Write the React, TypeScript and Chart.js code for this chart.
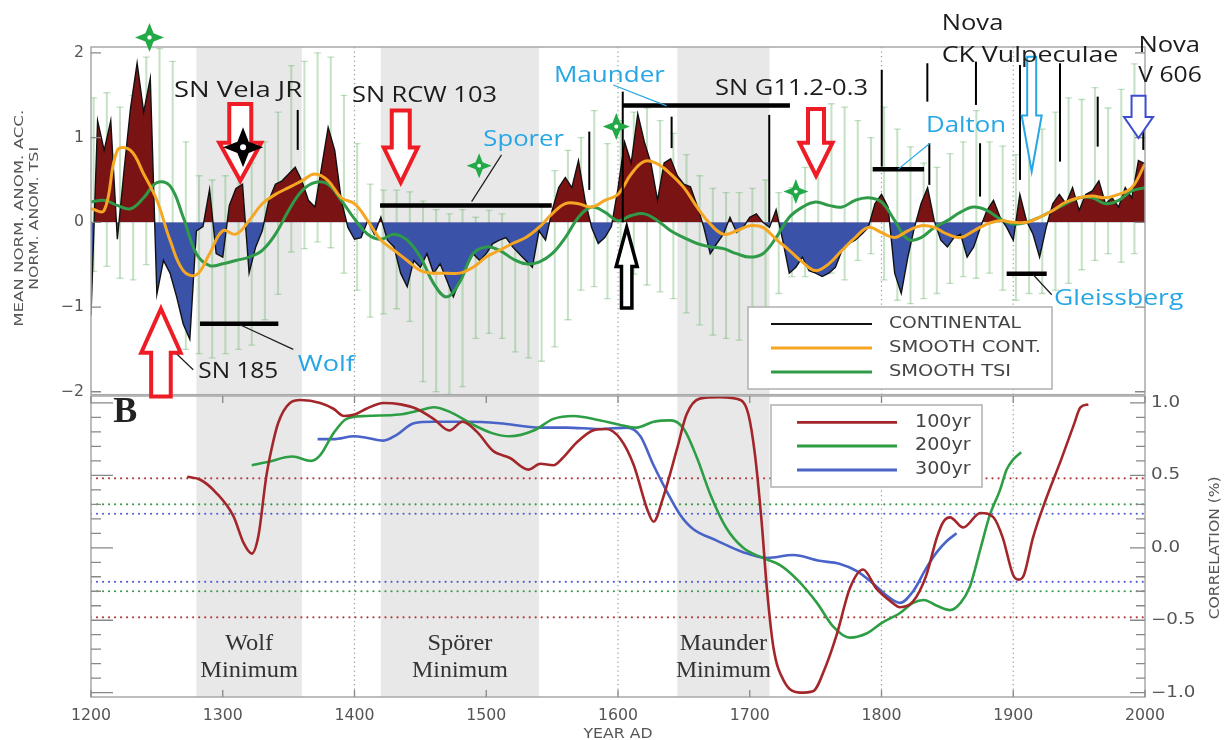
import React, { useEffect, useRef } from "react";
import { Chart, registerables } from "chart.js";
Chart.register(...registerables);

// ================= DATA =================
// Upper panel: continental reconstruction (5-year steps)
const CONT_YEARS = Array.from({ length: 161 }, (_, i) => 1200 + 5 * i);
const CONTINENTAL = [
  -1.1, 1.2, 0.85, 1.2, -0.2, 0.6, 1.35, 1.88, 1.3, 1.7,
  -0.85, -0.45, -0.6, -0.88, -1.2, -1.38, -0.1, -0.05, 0.39, -0.37,
  -0.41, 0.2, 0.4, 0.45, -0.6, -0.29, -0.1, 0.26, 0.45, 0.49,
  0.57, 0.65, 0.49, 0.26, 0.18, 0.65, 1.12, 0.85, 0.26, -0.06,
  -0.2, -0.18, 0.02, -0.14, 0.06, -0.21, -0.29, -0.6, -0.76, -0.45,
  -0.53, -0.37, -0.6, -0.49, -0.68, -0.88, -0.68, -0.53, -0.37, -0.45,
  -0.37, -0.25, -0.21, -0.18, -0.29, -0.37, -0.45, -0.53, -0.1, -0.21,
  0.14, 0.41, 0.53, 0.41, 0.73, 0.26, -0.06, -0.25, -0.18, -0.05,
  0.4, 0.95, 0.7, 1.28, 0.95, 0.7, 0.26, 0.7, 0.75, 0.55,
  0.45, 0.42, 0.2, -0.05, -0.37, -0.25, -0.14, 0.06, -0.12, -0.06,
  0.06, 0.1, 0.0, -0.06, 0.15, -0.21, -0.6, -0.53, -0.41, -0.57,
  -0.6, -0.64, -0.6, -0.53, -0.33, -0.25, -0.21, -0.14, -0.06, 0.22,
  0.33, 0.18, -0.6, -0.84, -0.41, -0.06, 0.22, 0.41, 0.02, -0.21,
  -0.29, -0.18, -0.14, -0.41, -0.29, -0.06, 0.14, 0.26, 0.06, -0.06,
  -0.21, 0.33, 0.02, -0.14, -0.41, -0.06, 0.22, 0.33, 0.22, 0.41,
  0.14, 0.33, 0.37, 0.49, 0.22, 0.29, 0.18, 0.41, 0.29, 0.73,
  0.69,
];

// Smooth curves (10-year steps)
const SMOOTH_YEARS = Array.from({ length: 81 }, (_, i) => 1200 + 10 * i);
const SMOOTH_CONT = [
  0.16, 0.14, 0.85, 0.85, 0.57, 0.26, -0.21, -0.57, -0.62, -0.37,
  -0.1, -0.14, 0.02, 0.22, 0.33, 0.41, 0.49, 0.57, 0.49, 0.29,
  0.22, 0.02, -0.21, -0.33, -0.45, -0.57, -0.6, -0.6, -0.6, -0.53,
  -0.41, -0.33, -0.25, -0.18, -0.06, 0.1, 0.22, 0.22, 0.18, 0.26,
  0.33, 0.57, 0.72, 0.69, 0.57, 0.41, 0.18, -0.02, -0.14, -0.1,
  -0.04, -0.06, -0.2, -0.33, -0.47, -0.57, -0.49, -0.33, -0.18, -0.06,
  -0.12, -0.18, -0.1, -0.04, -0.06, -0.14, -0.18, -0.1, -0.02, 0.02,
  0.0, 0.0, 0.06, 0.14, 0.24, 0.29, 0.31, 0.29, 0.33, 0.41,
  0.69,
];
const SMOOTH_TSI = [
  0.24, 0.26, 0.2, 0.16, 0.29, 0.47, 0.43, 0.06, -0.37, -0.51,
  -0.49, -0.45, -0.41, -0.33, -0.14, 0.14, 0.37, 0.47, 0.45, 0.26,
  0.04, -0.14, -0.2, -0.14, -0.21, -0.41, -0.72, -0.88, -0.7, -0.37,
  -0.29, -0.33, -0.43, -0.49, -0.47, -0.37, -0.18, 0.06, 0.18, 0.12,
  0.02, 0.08, 0.1, 0.02, -0.1, -0.18, -0.25, -0.29, -0.31, -0.37,
  -0.41, -0.37, -0.18, 0.06, 0.18, 0.24, 0.2, 0.18, 0.26, 0.29,
  0.24, 0.02, -0.2, -0.18, -0.06, 0.02, 0.12, 0.18, 0.14, 0.04,
  -0.02, 0.0, 0.06, 0.14, 0.22, 0.29, 0.29, 0.22, 0.26, 0.37,
  0.41,
];

// Error bars (every 10 years)
const ERR_YEARS = Array.from({ length: 80 }, (_, i) => 1202 + 10 * i);
const ERR_HIGH = [
  1.47, 1.53, 1.36, 1.5, 1.95, 2.05, 1.9, 0.95, 0.55, 0.5,
  0.55, 0.6, 0.7, 0.95, 1.3, 1.85, 1.9, 2.0, 1.95, 1.5,
  0.93, 0.45, 0.38, 0.38, 0.36, 0.25, 0.15, 0.1, 0.15, 0.06,
  0.14, 0.1, -0.21, -0.06, 0.18, 0.61, 0.85, 1.0, 1.32, 0.93,
  1.2, 1.3, 1.35, 1.2, 1.05, 0.8, 0.55, 0.4, 0.35, 0.35,
  0.4, 0.5, 0.35, 0.41, 0.65, 1.12, 1.4, 1.36, 1.2, 1.0,
  1.36, 1.1, 0.89, 0.7, 0.65, 0.81, 0.95, 1.32, 0.95, 0.9,
  0.8, 0.9, 1.1, 1.3, 1.47, 1.45, 1.59, 1.35, 1.57, 1.87,
];
const ERR_LOW = [
  -0.58, -0.52, -0.66, -0.68, -0.5, -0.5, -0.65, -1.5, -1.55, -1.6,
  -1.55, -1.5, -1.45, -1.15, -0.85, -0.35, -0.31, -0.23, -0.3, -0.6,
  -0.8, -1.12, -1.08, -1.02, -1.17, -1.88, -2.0, -2.03, -1.94, -1.37,
  -1.31, -1.37, -1.53, -1.6, -1.64, -1.47, -1.15, -0.8, -0.76, -0.9,
  -0.5, -0.61, -0.74, -0.82, -0.9, -1.07, -1.21, -1.33, -1.37, -1.39,
  -1.27, -1.04, -0.84, -0.64, -0.64, -0.57, -0.6, -0.68, -0.45, -0.37,
  -0.68, -0.92, -0.96, -0.9, -0.84, -0.72, -0.64, -0.66, -0.6, -0.8,
  -0.92, -0.84, -0.84, -0.8, -0.72, -0.56, -0.45, -0.37, -0.47, -0.37,
];

// Lower panel: running correlations
const R100_YEARS = [1273, 1283, 1295, 1308, 1316, 1322, 1327, 1333, 1337, 1342, 1351, 1359, 1374, 1384, 1392, 1400, 1409, 1422, 1435, 1447, 1460, 1472, 1482, 1493, 1505, 1518, 1532, 1541, 1551, 1558, 1569, 1581, 1591, 1602, 1612, 1622, 1627, 1634, 1645, 1652, 1662, 1677, 1693, 1699, 1704, 1709, 1713, 1718, 1726, 1738, 1748, 1758, 1766, 1776, 1786, 1796, 1807, 1814, 1824, 1834, 1842, 1847, 1852, 1862, 1875, 1885, 1892, 1900, 1904, 1908, 1915, 1925, 1936, 1946, 1951, 1957];
const R100 = [0.49, 0.47, 0.38, 0.22, 0.03, -0.04, 0.08, 0.49, 0.68, 0.86, 1.0, 1.02, 1.0, 0.96, 0.91, 0.92, 0.96, 1.0, 0.99, 0.96, 0.89, 0.81, 0.87, 0.8, 0.67, 0.62, 0.54, 0.58, 0.57, 0.62, 0.73, 0.81, 0.82, 0.75, 0.57, 0.27, 0.18, 0.34, 0.69, 0.92, 1.03, 1.04, 1.02, 0.92, 0.64, 0.18, -0.28, -0.69, -0.92, -1.0, -0.99, -0.81, -0.6, -0.28, -0.15, -0.28, -0.37, -0.41, -0.37, -0.19, 0.07, 0.18, 0.21, 0.14, 0.24, 0.21, 0.07, -0.19, -0.22, -0.19, 0.07, 0.34, 0.6, 0.85, 0.97, 0.99];
const G200_YEARS = [1322, 1333, 1353, 1367, 1374, 1384, 1394, 1409, 1434, 1450, 1460, 1472, 1490, 1505, 1518, 1536, 1551, 1566, 1586, 1601, 1614, 1627, 1640, 1650, 1660, 1670, 1682, 1695, 1710, 1723, 1736, 1751, 1763, 1776, 1789, 1800, 1814, 1824, 1832, 1842, 1852, 1860, 1867, 1875, 1882, 1890, 1895, 1900, 1906];
const G200 = [0.57, 0.59, 0.63, 0.6, 0.64, 0.79, 0.89, 0.91, 0.92, 0.95, 0.97, 0.94, 0.85, 0.79, 0.77, 0.81, 0.89, 0.91, 0.88, 0.85, 0.83, 0.87, 0.88, 0.82, 0.62, 0.37, 0.14, 0.0, -0.07, -0.12, -0.22, -0.38, -0.54, -0.62, -0.59, -0.52, -0.45, -0.38, -0.36, -0.4, -0.43, -0.38, -0.27, -0.01, 0.22, 0.4, 0.54, 0.61, 0.66];
const B300_YEARS = [1372, 1384, 1400, 1409, 1422, 1432, 1445, 1460, 1485, 1510, 1541, 1561, 1586, 1607, 1617, 1627, 1637, 1647, 1657, 1675, 1695, 1713, 1733, 1753, 1768, 1781, 1794, 1804, 1814, 1824, 1834, 1842, 1850, 1857];
const B300 = [0.75, 0.75, 0.77, 0.76, 0.74, 0.78, 0.86, 0.87, 0.87, 0.86, 0.83, 0.83, 0.82, 0.83, 0.77, 0.57, 0.39, 0.23, 0.13, 0.05, -0.03, -0.07, -0.05, -0.09, -0.11, -0.16, -0.25, -0.33, -0.38, -0.3, -0.14, -0.03, 0.05, 0.1];
// significance levels
const SIG_YEARS = [1200, 2000];
const SIG_100 = 0.48;
const SIG_200 = 0.3;
const SIG_300 = 0.235;

// Minima bands and ticks
const MINIMA = [[1280, 1360], [1420, 1540], [1645, 1715]];
const X_TICKS = [1200, 1300, 1400, 1500, 1600, 1700, 1800, 1900, 2000];
const TOP_Y_TICKS = [-2, -1, 0, 1, 2];
const BOT_Y_LABELS = [-1, -0.5, 0, 0.5, 1];
const MIN_NAMES = [["Wolf", "Minimum"], ["Spörer", "Minimum"], ["Maunder", "Minimum"]];

// ================= ANNOTATIONS (data coordinates) =================
const DARK = "#1c1c1c";
const LBLUE = "#27a6e6";
const RED = "#ee1c25";
const GREEN = "#22aa48";
const TEXTS_TOP: [string, number, number, number, string][] = [
  ["SN Vela JR", 1311.6, 1.481, 128, DARK],
  ["SN RCW 103", 1453.1, 1.422, 145, DARK],
  ["SN G11.2-0.3", 1731.7, 1.504, 153, DARK],
  ["Nova", 1869.1, 2.271, 61.6, DARK],
  ["CK Vulpeculae", 1912.7, 1.897, 176.7, DARK],
  ["Nova", 2018.4, 2.015, 61.7, DARK],
  ["V 606", 2019, 1.661, 63.5, DARK],
  ["SN 185", 1311.8, -1.838, 80, DARK],
  ["Wolf", 1378.6, -1.76, 57.3, LBLUE],
  ["Sporer", 1528.4, 0.906, 80.7, LBLUE],
  ["Maunder", 1593.5, 1.661, 111, LBLUE],
  ["Dalton", 1864.1, 1.071, 80, LBLUE],
  ["Gleissberg", 1980, -0.973, 129.3, LBLUE],
];
const MIN_BARS = [[1282.7, 1342.2, -1.198], [1419.4, 1549.7, 0.198], [1603.6, 1730.5, 1.378], [1793.3, 1832.3, 0.628], [1895, 1925.4, -0.608]];
const CONNECTORS: [number, number, number, number, string][] = [
  [1313.1, -1.21, 1353.5, -1.5, DARK],
  [1252.4, -1.366, 1277.6, -1.74, DARK],
  [1488.9, 0.245, 1511.6, 0.796, DARK],
  [1596.4, 1.622, 1636.9, 1.375, LBLUE],
  [1812.7, 0.628, 1836.8, 0.934, LBLUE],
  [1915.2, -0.619, 1929.2, -0.855, DARK],
];
const VLINES = [
  [1356.9, 1.327, 0.855], [1578.2, 1.071, 0.383], [1603.6, 1.543, 0.0], [1640.7, 1.248, 0.876], [1714.8, 1.268, 0.0],
  [1800.2, 1.8, 0.658], [1834.8, 1.878, 1.425], [1836.3, 0.934, 0.442], [1871.7, 1.897, 1.386], [1874.8, 0.934, 0.304],
  [1905.1, 1.858, 0.501], [1935.5, 1.878, 0.717], [1964.1, 1.484, 0.894], [1998.7, 1.366, 0.855],
];
// [year, tip value, tail value, head half-width px, shaft half-width px, head length px, color, line width]
const ARROWS: [number, number, number, number, number, number, string, number][] = [
  [1253.1, -1.02, -2.055, 19.7, 9.8, 44, RED, 4],
  [1313.3, 0.49, 1.398, 21, 11, 38, RED, 4],
  [1435.1, 0.47, 1.319, 17, 9, 35, RED, 4],
  [1750.3, 0.55, 1.339, 16.5, 8, 33, RED, 4],
  [1606.6, -0.06, -1.012, 10.5, 5.2, 39, "#000", 3.5],
  [1914.0, 0.6, 1.956, 10, 4.5, 56, LBLUE, 2],
  [1995.1, 0.995, 1.493, 14.5, 7, 21, "#3b4ccf", 2],
];
const STARS: [number, number, number, string][] = [
  [1244.4, 2.183, 14.5, GREEN],
  [1494.6, 0.669, 12.5, GREEN],
  [1598.7, 1.13, 13.5, GREEN],
  [1735.0, 0.363, 12.5, GREEN],
  [1315.4, 0.885, 20, "#000"],
];

// ================= helpers =================
const BAND = "#e8e8e8";
const AXIS_GRAY = "#555";
const FRAME = "#a8a8a8";
const ERR_COLOR = "rgba(120,185,120,0.42)";

function drawText(ctx: CanvasRenderingContext2D, s: string, x: number, y: number, o: any) {
  ctx.save();
  ctx.font = o.font;
  ctx.fillStyle = o.color || "#000";
  ctx.textAlign = o.align || "center";
  ctx.textBaseline = o.baseline || "alphabetic";
  ctx.translate(x, y);
  if (o.rot) ctx.rotate(o.rot);
  let sx = o.sx || 1;
  if (o.width) sx = o.width / ctx.measureText(s).width;
  ctx.scale(sx, 1);
  ctx.fillText(s, 0, 0);
  ctx.restore();
}

function drawGridAndBands(chart: any) {
  const { ctx, chartArea: a, scales } = chart;
  const x = scales.x;
  ctx.save();
  ctx.strokeStyle = "#9a9a9a";
  ctx.lineWidth = 1.2;
  ctx.setLineDash([1.2, 3.3]);
  X_TICKS.forEach((v) => {
    if (v <= 1200 || v >= 2000) return;
    const px = x.getPixelForValue(v);
    ctx.beginPath();
    ctx.moveTo(px, a.top);
    ctx.lineTo(px, a.bottom);
    ctx.stroke();
  });
  ctx.setLineDash([]);
  ctx.fillStyle = BAND;
  MINIMA.forEach(([s, e]) => {
    const x1 = x.getPixelForValue(s);
    const x2 = x.getPixelForValue(e);
    ctx.fillRect(x1, a.top, x2 - x1, a.bottom - a.top);
  });
  ctx.restore();
}

function drawArrow(ctx: CanvasRenderingContext2D, x: number, tipY: number, tailY: number, hw: number, sw: number, hl: number, color: string, lw: number) {
  const d = tailY > tipY ? 1 : -1;
  const hb = tipY + d * hl;
  ctx.save();
  ctx.beginPath();
  ctx.moveTo(x, tipY);
  ctx.lineTo(x + hw, hb);
  ctx.lineTo(x + sw, hb);
  ctx.lineTo(x + sw, tailY);
  ctx.lineTo(x - sw, tailY);
  ctx.lineTo(x - sw, hb);
  ctx.lineTo(x - hw, hb);
  ctx.closePath();
  ctx.fillStyle = "#fff";
  ctx.fill();
  ctx.strokeStyle = color;
  ctx.lineWidth = lw;
  ctx.lineJoin = "miter";
  ctx.stroke();
  ctx.restore();
}

function drawStar(ctx: CanvasRenderingContext2D, x: number, y: number, r: number, color: string) {
  ctx.save();
  ctx.beginPath();
  for (let i = 0; i < 8; i++) {
    const ang = -Math.PI / 2 + (i * Math.PI) / 4;
    const rad = i % 2 === 0 ? r : r * 0.4;
    const px = x + rad * Math.cos(ang);
    const py = y + rad * Math.sin(ang);
    if (i === 0) ctx.moveTo(px, py);
    else ctx.lineTo(px, py);
  }
  ctx.closePath();
  ctx.fillStyle = color;
  ctx.fill();
  ctx.beginPath();
  ctx.arc(x, y, r * 0.34, 0, Math.PI * 2);
  ctx.fill();
  ctx.beginPath();
  ctx.arc(x, y, r * 0.15, 0, Math.PI * 2);
  ctx.fillStyle = "#fff";
  ctx.fill();
  ctx.restore();
}

const fmtMinus = (v: number, d: number) => (v < 0 ? "\u2212" : "") + Math.abs(v).toFixed(d);

// ================= top plugin =================
const topPlugin = {
  id: "topDecor",
  beforeDatasetsDraw(chart: any) {
    drawGridAndBands(chart);
  },
  afterDraw(chart: any) {
    const { ctx, chartArea: a, scales } = chart;
    const X = (v: number) => scales.x.getPixelForValue(v);
    const Y = (v: number) => scales.y.getPixelForValue(v);
    ctx.save();
    // frame
    ctx.strokeStyle = FRAME;
    ctx.lineWidth = 1.5;
    ctx.strokeRect(a.left, a.top, a.right - a.left, a.bottom - a.top);
    // ticks
    ctx.strokeStyle = "#888";
    ctx.lineWidth = 1.3;
    TOP_Y_TICKS.forEach((v) => {
      const py = Y(v);
      ctx.beginPath();
      ctx.moveTo(a.left, py);
      ctx.lineTo(a.left + 10, py);
      ctx.moveTo(a.right, py);
      ctx.lineTo(a.right - 10, py);
      ctx.stroke();
      drawText(ctx, fmtMinus(v, 0), a.left - 7, py, { font: "15px 'DejaVu Sans'", color: AXIS_GRAY, align: "right", baseline: "middle", sx: 1.05 });
    });
    // y title
    const yc = Y(0) - 4;
    drawText(ctx, "MEAN NORM. ANOM. ACC.", 20, yc, { font: "13px 'DejaVu Sans'", color: AXIS_GRAY, baseline: "middle", rot: -Math.PI / 2, width: 217 });
    drawText(ctx, "NORM. ANOM. TSI", 35, yc, { font: "13px 'DejaVu Sans'", color: AXIS_GRAY, baseline: "middle", rot: -Math.PI / 2, width: 143 });

    // vertical black marks
    ctx.strokeStyle = "#000";
    ctx.lineWidth = 2;
    VLINES.forEach(([yr, v1, v2]) => {
      ctx.beginPath();
      ctx.moveTo(X(yr), Y(v1));
      ctx.lineTo(X(yr), Y(v2));
      ctx.stroke();
    });
    // minima bars
    ctx.lineWidth = 4.5;
    MIN_BARS.forEach(([y1, y2, v]) => {
      ctx.beginPath();
      ctx.moveTo(X(y1), Y(v));
      ctx.lineTo(X(y2), Y(v));
      ctx.stroke();
    });
    // connectors
    ctx.lineWidth = 1.2;
    CONNECTORS.forEach(([x1, v1, x2, v2, c]) => {
      ctx.strokeStyle = c;
      ctx.beginPath();
      ctx.moveTo(X(x1), Y(v1));
      ctx.lineTo(X(x2), Y(v2));
      ctx.stroke();
    });
    // arrows
    ARROWS.forEach(([yr, tip, tail, hw, sw, hl, c, lw]) => drawArrow(ctx, X(yr), Y(tip), Y(tail), hw, sw, hl, c, lw));
    // stars
    STARS.forEach(([yr, v, r, c]) => drawStar(ctx, X(yr), Y(v), r, c));
    // texts
    TEXTS_TOP.forEach(([t, yr, v, w, c]) => drawText(ctx, t, X(yr), Y(v), { font: "22px 'Open Sans'", color: c, width: w }));

    // legend
    ctx.fillStyle = "#fff";
    ctx.fillRect(748, 307, 304, 82);
    ctx.strokeStyle = "#b0b0b0";
    ctx.lineWidth = 1.5;
    ctx.strokeRect(748, 307, 304, 82);
    const items: [string, string, number, number, number][] = [
      ["CONTINENTAL", "#111", 2.2, 324, 132],
      ["SMOOTH CONT.", "#f5a623", 3, 348, 152],
      ["SMOOTH TSI", "#2f9a48", 3, 372, 122],
    ];
    items.forEach(([label, col, lw, yy, w]) => {
      ctx.strokeStyle = col;
      ctx.lineWidth = lw;
      ctx.beginPath();
      ctx.moveTo(771, yy);
      ctx.lineTo(872, yy);
      ctx.stroke();
      drawText(ctx, label, 889, yy, { font: "16px 'DejaVu Sans'", color: "#444", align: "left", baseline: "middle", width: w });
    });
    ctx.restore();
  },
};

// ================= bottom plugin =================
const botPlugin = {
  id: "botDecor",
  beforeDatasetsDraw(chart: any) {
    drawGridAndBands(chart);
  },
  afterDraw(chart: any) {
    const { ctx, chartArea: a, scales } = chart;
    const X = (v: number) => scales.x.getPixelForValue(v);
    const Y = (v: number) => scales.y.getPixelForValue(v);
    ctx.save();
    ctx.strokeStyle = FRAME;
    ctx.lineWidth = 1.5;
    ctx.strokeRect(a.left, a.top, a.right - a.left, a.bottom - a.top);
    // y ticks every 0.1
    ctx.strokeStyle = "#888";
    ctx.lineWidth = 1.3;
    for (let i = -10; i <= 10; i++) {
      const v = i / 10;
      const py = Y(v);
      const major = i % 5 === 0;
      ctx.beginPath();
      ctx.moveTo(a.left, py);
      ctx.lineTo(a.left + (major ? 22 : 10), py);
      ctx.moveTo(a.right, py);
      ctx.lineTo(a.right - (major ? 15 : 9), py);
      ctx.stroke();
    }
    // x ticks
    X_TICKS.forEach((v) => {
      const px = X(v);
      ctx.beginPath();
      ctx.moveTo(px, a.bottom);
      ctx.lineTo(px, a.bottom - 7);
      ctx.moveTo(px, a.top);
      ctx.lineTo(px, a.top + 7);
      ctx.stroke();
      drawText(ctx, String(v), px, a.bottom + 23, { font: "15px 'DejaVu Sans'", color: AXIS_GRAY, sx: 1.05 });
    });
    BOT_Y_LABELS.forEach((v) => {
      drawText(ctx, fmtMinus(v, 1), a.right + 6, Y(v), { font: "15px 'DejaVu Sans'", color: AXIS_GRAY, align: "left", baseline: "middle", sx: 1.22 });
    });
    drawText(ctx, "CORRELATION (%)", a.right + 70, Y(0), { font: "14px 'DejaVu Sans'", color: AXIS_GRAY, baseline: "middle", rot: -Math.PI / 2, width: 143 });
    drawText(ctx, "YEAR AD", X(1600), a.bottom + 41, { font: "14px 'DejaVu Sans'", color: AXIS_GRAY, width: 69 });
    // B
    drawText(ctx, "B", X(1216.9), Y(0.871), { font: "bold 36px 'Liberation Serif'", color: "#222", align: "left" });
    // minima labels
    const widths = [[48.3, 97.7], [65, 95.7], [87.3, 95]];
    MINIMA.forEach(([s, e], i) => {
      const cx = X((s + e) / 2);
      drawText(ctx, MIN_NAMES[i][0], cx, Y(-0.708), { font: "24px 'Liberation Serif'", color: "#333", width: widths[i][0] });
      drawText(ctx, MIN_NAMES[i][1], cx, Y(-0.892), { font: "24px 'Liberation Serif'", color: "#333", width: widths[i][1] });
    });
    // legend
    ctx.fillStyle = "#fff";
    ctx.fillRect(771, 10, 211, 82);
    ctx.strokeStyle = "#b0b0b0";
    ctx.lineWidth = 1.5;
    ctx.strokeRect(771, 10, 211, 82);
    const items: [string, string, number][] = [
      ["100yr", "#a3262a", 27.3],
      ["200yr", "#2e9e45", 51],
      ["300yr", "#4a63c8", 75],
    ];
    items.forEach(([label, col, yy]) => {
      ctx.strokeStyle = col;
      ctx.lineWidth = 2.8;
      ctx.beginPath();
      ctx.moveTo(797, yy);
      ctx.lineTo(897, yy);
      ctx.stroke();
      drawText(ctx, label, 915, yy, { font: "17px 'DejaVu Sans'", color: "#444", align: "left", baseline: "middle", width: 55.7 });
    });
    ctx.restore();
  },
};

// ================= configs =================
function topConfig(): any {
  const pts = (xs: number[], ys: number[]) => xs.map((x, i) => ({ x, y: ys[i] }));
  return {
    type: "line",
    data: {
      datasets: [
        { label: "SMOOTH CONT.", data: pts(SMOOTH_YEARS, SMOOTH_CONT), borderColor: "#f5a623", borderWidth: 3, pointRadius: 0, tension: 0.4, fill: false, order: 1 },
        { label: "SMOOTH TSI", data: pts(SMOOTH_YEARS, SMOOTH_TSI), borderColor: "#2f9a48", borderWidth: 3, pointRadius: 0, tension: 0.4, fill: false, order: 2 },
        {
          label: "CONTINENTAL",
          data: pts(CONT_YEARS, CONTINENTAL),
          borderColor: "#111",
          borderWidth: 1.4,
          pointRadius: 0,
          tension: 0,
          fill: { target: "origin", above: "#7a1414", below: "#3a52a8" },
          order: 3,
        },
        {
          label: "caps",
          data: [...pts(ERR_YEARS, ERR_HIGH), ...pts(ERR_YEARS, ERR_LOW)],
          showLine: false,
          pointStyle: "line",
          pointRadius: 3.5,
          pointBorderWidth: 1.3,
          pointBorderColor: ERR_COLOR,
          borderColor: ERR_COLOR,
          fill: false,
          order: 4,
        },
        {
          type: "bar",
          label: "err",
          data: ERR_YEARS.map((x, i) => ({ x, y: [ERR_LOW[i], ERR_HIGH[i]] })),
          backgroundColor: ERR_COLOR,
          borderWidth: 0,
          barThickness: 1.4,
          grouped: false,
          order: 5,
        },
      ],
    },
    options: {
      animation: false,
      responsive: false,
      events: [],
      layout: { padding: { left: 91, right: 80, top: 47, bottom: 5 } },
      plugins: { legend: { display: false }, tooltip: { enabled: false } },
      scales: {
        x: { type: "linear", min: 1200, max: 2000, display: false, offset: false },
        y: { type: "linear", min: -2.035, max: 2.07, display: false },
      },
    },
    plugins: [topPlugin],
  };
}

function botConfig(): any {
  const pts = (xs: number[], ys: number[]) => xs.map((x, i) => ({ x, y: ys[i] }));
  const sig = (v: number, col: string) => ({
    data: SIG_YEARS.map((x) => ({ x, y: v })),
    borderColor: col,
    borderWidth: 2.2,
    borderDash: [0.01, 6],
    borderCapStyle: "round",
    pointRadius: 0,
    fill: false,
    order: 10,
  });
  return {
    type: "line",
    data: {
      datasets: [
        { label: "100yr", data: pts(R100_YEARS, R100), borderColor: "#a3262a", borderWidth: 2.6, pointRadius: 0, cubicInterpolationMode: "monotone", fill: false, order: 1 },
        { label: "200yr", data: pts(G200_YEARS, G200), borderColor: "#2e9e45", borderWidth: 2.6, pointRadius: 0, cubicInterpolationMode: "monotone", fill: false, order: 2 },
        { label: "300yr", data: pts(B300_YEARS, B300), borderColor: "#4a63c8", borderWidth: 2.6, pointRadius: 0, cubicInterpolationMode: "monotone", fill: false, order: 3 },
        sig(SIG_100, "#b23b3b"),
        sig(-SIG_100, "#b23b3b"),
        sig(SIG_200, "#3a9a48"),
        sig(-SIG_200, "#3a9a48"),
        sig(SIG_300, "#4f5fd0"),
        sig(-SIG_300, "#4f5fd0"),
      ],
    },
    options: {
      animation: false,
      responsive: false,
      events: [],
      layout: { padding: { left: 91, right: 80, top: 1, bottom: 43 } },
      plugins: { legend: { display: false }, tooltip: { enabled: false } },
      scales: {
        x: { type: "linear", min: 1200, max: 2000, display: false, offset: false },
        y: { type: "linear", min: -1.03, max: 1.048, display: false },
      },
    },
    plugins: [botPlugin],
  };
}

export default function App() {
  const topRef = useRef<HTMLCanvasElement>(null);
  const botRef = useRef<HTMLCanvasElement>(null);
  useEffect(() => {
    const c1 = new Chart(topRef.current as HTMLCanvasElement, topConfig());
    const c2 = new Chart(botRef.current as HTMLCanvasElement, botConfig());
    return () => {
      c1.destroy();
      c2.destroy();
    };
  }, []);
  return (
    <div style={{ position: "fixed", left: 0, top: 0, width: 1225, height: 740, background: "#fff", overflow: "hidden" }}>
      <canvas ref={botRef} width={1225} height={345} style={{ position: "absolute", left: 0, top: 395, width: 1225, height: 345 }} />
      <canvas ref={topRef} width={1225} height={400} style={{ position: "absolute", left: 0, top: 0, width: 1225, height: 400 }} />
    </div>
  );
}
